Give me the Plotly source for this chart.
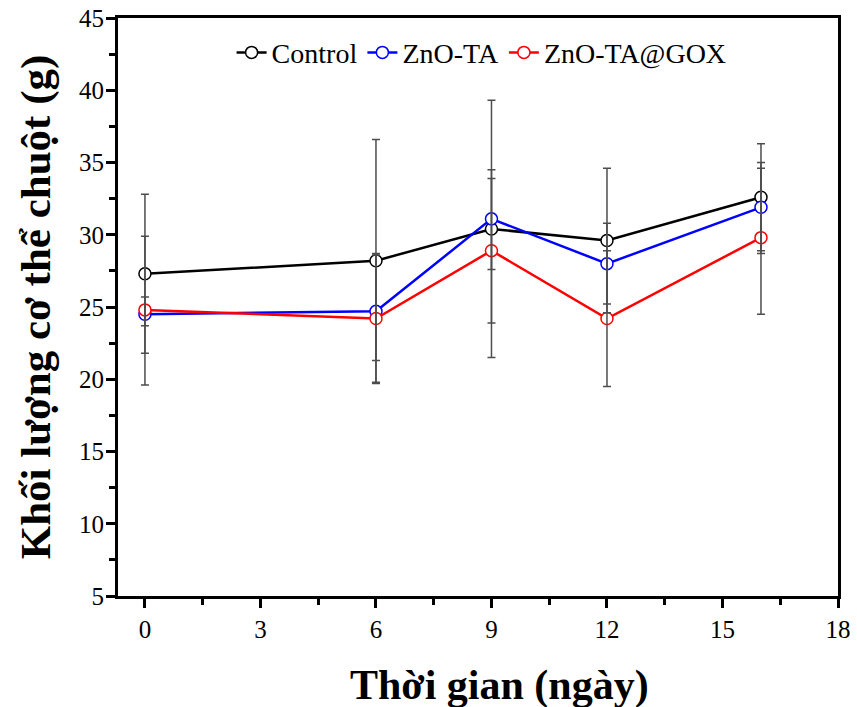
import plotly.graph_objects as go

# Sampling days
days = [0, 6, 9, 12, 16]

# Mean body weight (g) per group
control = [27.3, 28.2, 30.4, 29.6, 32.6]
zno_ta = [24.5, 24.7, 31.1, 28.0, 31.9]
zno_ta_gox = [24.8, 24.2, 28.9, 24.2, 29.8]

# Error bar extents (g), upper / lower
control_up = [5.5, 8.4, 8.9, 5.0, 3.7]
control_down = [5.5, 8.4, 8.9, 5.0, 3.7]
zno_ta_up = [1.2, 4.0, 3.4, 2.8, 3.1]
zno_ta_down = [0.8, 5.0, 3.5, 2.8, 3.2]
gox_up = [5.1, 4.4, 5.0, 4.7, 4.8]
gox_down = [5.2, 2.9, 5.0, 4.7, 5.3]

series_names = ["Control", "ZnO-TA", "ZnO-TA@GOX"]
series_colors = ["#000000", "#0000ff", "#ff0000"]

x_ticks = [0, 3, 6, 9, 12, 15, 18]
y_ticks = [5, 10, 15, 20, 25, 30, 35, 40, 45]

SERIF = "Liberation Serif"

fig = go.Figure()

groups = [
    (control, control_up, control_down),
    (zno_ta, zno_ta_up, zno_ta_down),
    (zno_ta_gox, gox_up, gox_down),
]

# Lines with open-looking circle markers
for (vals, _, _), name, color in zip(groups, series_names, series_colors):
    fig.add_trace(go.Scatter(
        x=days, y=vals, name=name, mode="lines+markers",
        line=dict(color=color, width=2.5),
        marker=dict(symbol="circle", size=12, color="white",
                    line=dict(color=color, width=1.5)),
        hoverinfo="skip",
    ))

# Error bars drawn on top of the markers
for vals, up, down in groups:
    fig.add_trace(go.Scatter(
        x=days, y=vals, mode="markers", showlegend=False,
        marker=dict(size=1, color="rgba(0,0,0,0)"),
        error_y=dict(type="data", symmetric=False, array=up, arrayminus=down,
                     color="#4d4d4d", thickness=1.5, width=4),
        hoverinfo="skip",
    ))

axis_common = dict(
    showline=True, linecolor="black", linewidth=3, mirror=True,
    ticks="outside", tickwidth=3, ticklen=9, tickcolor="black",
    showgrid=False, zeroline=False, automargin=False,
    tickfont=dict(family=SERIF, size=25, color="black"),
)

fig.update_xaxes(
    range=[-0.7, 18], tickmode="array", tickvals=x_ticks,
    minor=dict(dtick=1.5, tick0=0, ticks="outside", ticklen=6, tickwidth=3,
               tickcolor="black", showgrid=False),
    **axis_common,
)
fig.update_yaxes(
    range=[5, 45], tickmode="array", tickvals=y_ticks,
    minor=dict(dtick=2.5, tick0=0, ticks="outside", ticklen=6, tickwidth=3,
               tickcolor="black", showgrid=False),
    ticklabelstandoff=-3,
    title=dict(text="Khối lượng cơ thể chuột (g)", standoff=15,
               font=dict(family=SERIF, size=43, color="black", weight="bold")),
    **axis_common,
)

# x-axis title as a positioned annotation
fig.add_annotation(
    text="Thời gian (ngày)", xref="paper", yref="paper",
    x=0.53, y=-0.155, xanchor="center", yanchor="middle", showarrow=False,
    font=dict(family=SERIF, size=42, color="black", weight="bold"),
)

fig.update_layout(
    width=857, height=707,
    margin=dict(l=118, r=19, t=18, b=111),
    paper_bgcolor="white", plot_bgcolor="white",
    showlegend=True,
    legend=dict(orientation="h", x=0.505, xanchor="center", y=0.94, yanchor="middle",
                font=dict(family=SERIF, size=28, color="black"),
                bgcolor="rgba(0,0,0,0)", itemwidth=30, tracegroupgap=0),
)

fig.write_html("out.html")
